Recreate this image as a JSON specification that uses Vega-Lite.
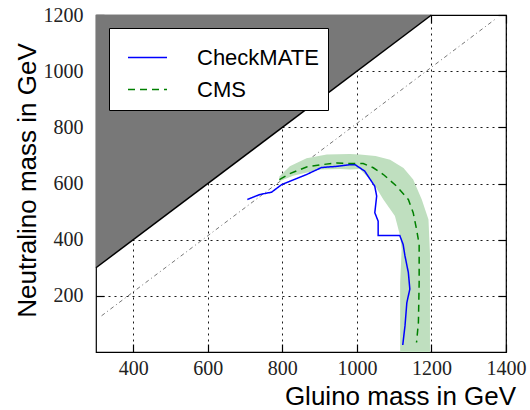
{
  "$schema": "https://vega.github.io/schema/vega-lite/v6.json",
  "width": 410,
  "height": 337,
  "autosize": "none",
  "padding": {"left": 96, "top": 15, "right": 24, "bottom": 58},
  "background": "white",
  "config": {
    "view": {"stroke": "black", "strokeWidth": 1.2},
    "axis": {
      "domain": false,
      "grid": true,
      "gridColor": "black",
      "gridDash": [2, 4],
      "gridWidth": 1,
      "gridOpacity": 0.9,
      "ticks": true,
      "tickColor": "black",
      "tickSize": -8,
      "tickWidth": 1.2,
      "labelFont": "Liberation Serif",
      "labelFontSize": 20,
      "labelColor": "#222",
      "format": "d",
      "titleFont": "Liberation Sans",
      "titleFontWeight": "normal",
      "titleColor": "black",
      "zindex": 1
    },
    "legend": {
      "orient": "none",
      "legendX": 13,
      "legendY": 13,
      "fillColor": "white",
      "strokeColor": "black",
      "padding": 9,
      "symbolType": "stroke",
      "symbolSize": 1521,
      "symbolStrokeWidth": 1.5,
      "symbolOffset": 9,
      "labelFont": "Liberation Sans",
      "labelFontSize": 22,
      "labelColor": "black",
      "labelOffset": 29,
      "rowPadding": 0
    }
  },
  "datasets": {
    "boundary": [{"g": 300, "n": 300}, {"g": 1200, "n": 1200}],
    "diag": [{"g": 315, "n": 129}, {"g": 1372, "n": 1186}],
    "band": [
      {"i": 0, "g": 792, "n": 608},
      {"i": 1, "g": 792, "n": 625},
      {"i": 2, "g": 820, "n": 661},
      {"i": 3, "g": 865, "n": 690},
      {"i": 4, "g": 919, "n": 703},
      {"i": 5, "g": 981, "n": 705},
      {"i": 6, "g": 1008, "n": 703},
      {"i": 7, "g": 1050, "n": 698},
      {"i": 8, "g": 1089, "n": 685},
      {"i": 9, "g": 1125, "n": 655},
      {"i": 10, "g": 1151, "n": 614},
      {"i": 11, "g": 1174, "n": 543},
      {"i": 12, "g": 1192, "n": 472},
      {"i": 13, "g": 1196, "n": 350},
      {"i": 14, "g": 1196, "n": 0},
      {"i": 15, "g": 1116, "n": 0},
      {"i": 16, "g": 1116, "n": 247},
      {"i": 17, "g": 1120, "n": 366},
      {"i": 18, "g": 1116, "n": 413},
      {"i": 19, "g": 1102, "n": 484},
      {"i": 20, "g": 1071, "n": 543},
      {"i": 21, "g": 1044, "n": 602},
      {"i": 22, "g": 1008, "n": 652},
      {"i": 23, "g": 981, "n": 650},
      {"i": 24, "g": 955, "n": 652},
      {"i": 25, "g": 901, "n": 650},
      {"i": 26, "g": 829, "n": 628}
    ],
    "curves": [
      {"s": "CheckMATE", "i": 0, "g": 706, "n": 543},
      {"s": "CheckMATE", "i": 1, "g": 740, "n": 561},
      {"s": "CheckMATE", "i": 2, "g": 771, "n": 569},
      {"s": "CheckMATE", "i": 3, "g": 798, "n": 596},
      {"s": "CheckMATE", "i": 4, "g": 820, "n": 608},
      {"s": "CheckMATE", "i": 5, "g": 865, "n": 632},
      {"s": "CheckMATE", "i": 6, "g": 905, "n": 657},
      {"s": "CheckMATE", "i": 7, "g": 946, "n": 661},
      {"s": "CheckMATE", "i": 8, "g": 981, "n": 667},
      {"s": "CheckMATE", "i": 9, "g": 995, "n": 667},
      {"s": "CheckMATE", "i": 10, "g": 1021, "n": 644},
      {"s": "CheckMATE", "i": 11, "g": 1039, "n": 608},
      {"s": "CheckMATE", "i": 12, "g": 1048, "n": 590},
      {"s": "CheckMATE", "i": 13, "g": 1053, "n": 555},
      {"s": "CheckMATE", "i": 14, "g": 1048, "n": 496},
      {"s": "CheckMATE", "i": 15, "g": 1057, "n": 466},
      {"s": "CheckMATE", "i": 16, "g": 1057, "n": 415},
      {"s": "CheckMATE", "i": 17, "g": 1115, "n": 415},
      {"s": "CheckMATE", "i": 18, "g": 1124, "n": 383},
      {"s": "CheckMATE", "i": 19, "g": 1129, "n": 342},
      {"s": "CheckMATE", "i": 20, "g": 1138, "n": 283},
      {"s": "CheckMATE", "i": 21, "g": 1142, "n": 224},
      {"s": "CheckMATE", "i": 22, "g": 1134, "n": 176},
      {"s": "CheckMATE", "i": 23, "g": 1129, "n": 93},
      {"s": "CheckMATE", "i": 24, "g": 1123, "n": 25},
      {"s": "CMS", "i": 0, "g": 792, "n": 614},
      {"s": "CMS", "i": 1, "g": 820, "n": 635},
      {"s": "CMS", "i": 2, "g": 865, "n": 659},
      {"s": "CMS", "i": 3, "g": 905, "n": 667},
      {"s": "CMS", "i": 4, "g": 946, "n": 673},
      {"s": "CMS", "i": 5, "g": 981, "n": 671},
      {"s": "CMS", "i": 6, "g": 1017, "n": 671},
      {"s": "CMS", "i": 7, "g": 1044, "n": 656},
      {"s": "CMS", "i": 8, "g": 1071, "n": 632},
      {"s": "CMS", "i": 9, "g": 1107, "n": 590},
      {"s": "CMS", "i": 10, "g": 1138, "n": 543},
      {"s": "CMS", "i": 11, "g": 1151, "n": 496},
      {"s": "CMS", "i": 12, "g": 1160, "n": 437},
      {"s": "CMS", "i": 13, "g": 1167, "n": 383},
      {"s": "CMS", "i": 14, "g": 1167, "n": 247},
      {"s": "CMS", "i": 15, "g": 1165, "n": 105},
      {"s": "CMS", "i": 16, "g": 1160, "n": 34}
    ]
  },
  "layer": [
    {
      "data": {"name": "boundary"},
      "mark": {"type": "area", "fill": "#787878", "stroke": null},
      "encoding": {
        "x": {
          "field": "g", "type": "quantitative",
          "scale": {"domain": [300, 1400], "nice": false, "zero": false},
          "axis": {
            "orient": "bottom",
            "values": [400, 600, 800, 1000, 1200, 1400],
            "labelFlush": false,
            "labelPadding": 14,
            "title": "Gluino mass in GeV",
            "titleFontSize": 26,
            "titleX": 304,
            "titleY": 52,
            "titleAlign": "center",
            "titleAnchor": null,
            "titleBaseline": "alphabetic"
          }
        },
        "y": {
          "field": "n", "type": "quantitative",
          "scale": {"domain": [0, 1200], "nice": false},
          "axis": {
            "orient": "left",
            "values": [200, 400, 600, 800, 1000, 1200],
            "labelPadding": 21,
            "title": "Neutralino mass in GeV",
            "titleFontSize": 26,
            "titleX": -61,
            "titleY": 165,
            "titleAlign": "center",
            "titleAnchor": null,
            "titleBaseline": "alphabetic"
          }
        },
        "y2": {"datum": 1200}
      }
    },
    {
      "data": {"name": "boundary"},
      "mark": {"type": "line", "color": "black", "strokeWidth": 1.5},
      "encoding": {
        "x": {"field": "g", "type": "quantitative", "axis": null},
        "y": {"field": "n", "type": "quantitative", "axis": null}
      }
    },
    {
      "data": {"name": "diag"},
      "mark": {"type": "line", "color": "#777777", "strokeWidth": 1, "strokeDash": [4, 3, 1, 3]},
      "encoding": {
        "x": {"field": "g", "type": "quantitative",
          "axis": {"orient": "top", "values": [400, 600, 800, 1000, 1200, 1400], "labels": false, "grid": false, "title": null}},
        "y": {"field": "n", "type": "quantitative",
          "axis": {"orient": "right", "values": [200, 400, 600, 800, 1000, 1200], "labels": false, "grid": false, "title": null}}
      }
    },
    {
      "data": {"name": "band"},
      "mark": {"type": "line", "fill": "#bfdfbf", "stroke": null, "strokeWidth": 0, "interpolate": "linear-closed"},
      "encoding": {
        "x": {"field": "g", "type": "quantitative", "axis": null},
        "y": {"field": "n", "type": "quantitative", "axis": null},
        "order": {"field": "i", "type": "quantitative"}
      }
    },
    {
      "data": {"name": "curves"},
      "mark": {"type": "line", "strokeWidth": 1.5},
      "encoding": {
        "x": {"field": "g", "type": "quantitative", "axis": null},
        "y": {"field": "n", "type": "quantitative", "axis": null},
        "order": {"field": "i", "type": "quantitative"},
        "color": {
          "field": "s", "type": "nominal",
          "scale": {"domain": ["CheckMATE", "CMS"], "range": ["#0000ff", "#008000"]},
          "legend": {"title": null}
        },
        "strokeDash": {
          "field": "s", "type": "nominal",
          "scale": {"domain": ["CheckMATE", "CMS"], "range": [[1, 0], [7, 5]]},
          "legend": {"title": null}
        }
      }
    }
  ],
  "resolve": {"axis": {"x": "independent", "y": "independent"}}
}
